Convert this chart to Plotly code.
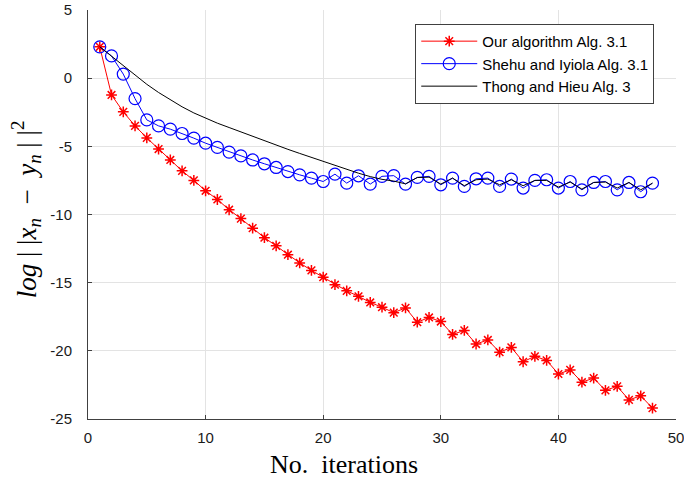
import plotly.graph_objects as go

iterations = list(range(1, 49))

ours = [2.3, -1.23, -2.47, -3.5, -4.38, -5.2, -6.0, -6.8, -7.5, -8.26,
        -8.9, -9.65, -10.3, -11.0, -11.7, -12.3, -12.95, -13.55, -14.1, -14.6,
        -15.15, -15.6, -16.0, -16.45, -16.8, -17.2, -16.85, -17.9, -17.55, -17.85,
        -18.8, -18.5, -19.5, -19.2, -20.1, -19.75, -20.8, -20.4, -20.7, -21.7,
        -21.4, -22.3, -22.0, -22.9, -22.6, -23.6, -23.3, -24.2]

shehu = [2.3, 1.63, 0.3, -1.5, -3.06, -3.5, -3.74, -4.06, -4.4, -4.77,
         -5.08, -5.42, -5.7, -6.0, -6.28, -6.55, -6.85, -7.09, -7.33, -7.58,
         -7.04, -7.7, -7.16, -7.77, -7.2, -7.15, -7.77, -7.28, -7.2, -7.82,
         -7.33, -7.94, -7.38, -7.33, -7.94, -7.4, -8.06, -7.5, -7.45, -8.06,
         -7.58, -8.19, -7.65, -7.58, -8.19, -7.65, -8.33, -7.7]

thong = [2.3, 1.6, 0.9, 0.2, -0.45, -1.05, -1.6, -2.1, -2.55, -2.95,
         -3.3, -3.62, -3.95, -4.28, -4.6, -4.92, -5.22, -5.52, -5.82, -6.1,
         -6.4, -6.7, -6.97, -7.22, -7.42, -7.55, -7.75, -7.29, -7.26, -7.77,
         -7.33, -7.89, -7.45, -7.4, -7.82, -7.45, -7.89, -7.5, -7.5, -7.99,
         -7.62, -8.14, -7.65, -7.62, -8.06, -7.65, -8.19, -7.7]

names = ["Our algorithm Alg. 3.1", "Shehu and Iyiola Alg. 3.1", "Thong and Hieu Alg. 3"]

x_ticks = [0, 10, 20, 30, 40, 50]
x_ticktext = ["0", "10", "20", "30", "40", "50"]
y_ticks = [5, 0, -5, -10, -15, -20, -25]
y_ticktext = ["5", "0", "-5", "-10", "-15", "-20", "-25"]

x_title = "No.  iterations"
y_title = "<i>log</i> | |<i>x<sub>n</sub></i>  −  <i>y<sub>n</sub></i> | |<sup>2</sup>"

fig = go.Figure()
fig.add_trace(go.Scatter(
    x=iterations, y=ours, name=names[0], mode="lines+markers",
    line=dict(color="#ff0000", width=1),
    marker=dict(symbol="asterisk-open", size=9, color="#ff0000",
                line=dict(color="#ff0000", width=1.5)),
))
fig.add_trace(go.Scatter(
    x=iterations, y=shehu, name=names[1], mode="lines+markers",
    line=dict(color="#0000ff", width=1),
    marker=dict(symbol="circle-open", size=12, color="#0000ff",
                line=dict(color="#0000ff", width=1.2)),
))
fig.add_trace(go.Scatter(
    x=iterations, y=thong, name=names[2], mode="lines",
    line=dict(color="#000000", width=1),
))

axis_common = dict(
    showgrid=True, gridcolor="#e3e3e3", gridwidth=1,
    showline=True, linecolor="#404040", linewidth=1,
    ticks="inside", ticklen=4, tickcolor="#404040",
    zeroline=False, mirror=False, automargin=False,
    ticklabeloverflow="allow",
    tickfont=dict(family="Liberation Sans, Arial", size=15, color="#1a1a1a"),
)

fig.update_xaxes(range=[0, 50], tickvals=x_ticks, ticktext=x_ticktext,
                 ticklabelstandoff=5, **axis_common)
fig.update_yaxes(range=[-25, 5], tickvals=y_ticks, ticktext=y_ticktext,
                 ticklabelstandoff=12, **axis_common)

fig.add_annotation(
    text=x_title, xref="paper", yref="paper", x=0.435, y=-0.112,
    xanchor="center", yanchor="middle", showarrow=False,
    font=dict(family="Liberation Serif, serif", size=26, color="#000000"),
)
fig.add_annotation(
    text=y_title, xref="paper", yref="paper", x=-0.105, y=0.5133,
    xanchor="center", yanchor="middle", showarrow=False, textangle=-90,
    font=dict(family="Liberation Serif, serif", size=27, color="#000000"),
)

fig.update_layout(
    width=684, height=483,
    margin=dict(l=88, r=8, t=10, b=64),
    paper_bgcolor="white", plot_bgcolor="white",
    showlegend=True,
    legend=dict(
        x=0.963, y=0.966, xanchor="right", yanchor="top",
        bgcolor="white", bordercolor="#404040", borderwidth=1,
        font=dict(family="Liberation Sans, Arial", size=15, color="#000000"),
        tracegroupgap=0, itemwidth=56,
    ),
)

fig.write_html("out.html")
